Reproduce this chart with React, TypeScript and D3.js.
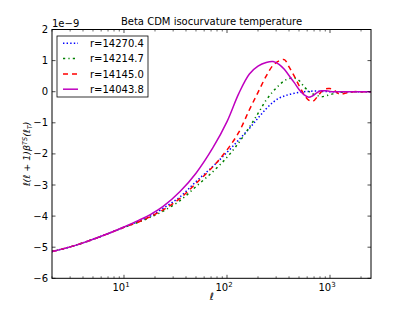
import React from "react";
import * as d3 from "d3";

const ell = [2, 3, 4, 6, 10, 14, 18, 24, 35, 50, 73, 100, 130, 165, 200, 240, 280, 320, 360, 400, 450, 500, 560, 620, 680, 750, 820, 900, 1000, 1100, 1250, 1400, 1700, 2000, 2500];

const blueVals = [-5.14, -4.99, -4.86, -4.65, -4.36, -4.16, -4.0, -3.75, -3.38, -2.89, -2.4, -1.95, -1.55, -1.18, -0.85, -0.55, -0.34, -0.21, -0.14, -0.09, -0.05, -0.02, 0.0, 0.01, 0.02, 0.02, 0.01, 0.01, 0, 0, 0, 0, 0, 0, 0];
const greenVals = [-5.14, -4.99, -4.86, -4.65, -4.36, -4.19, -4.04, -3.84, -3.5, -3.05, -2.57, -2.11, -1.64, -1.14, -0.7, -0.27, 0.01, 0.21, 0.35, 0.42, 0.44, 0.36, 0.16, 0.02, -0.07, -0.12, -0.16, -0.14, -0.09, -0.06, -0.02, 0, 0, 0, 0];
const redVals = [-5.14, -4.99, -4.86, -4.65, -4.36, -4.18, -4.02, -3.8, -3.43, -2.95, -2.41, -1.87, -1.31, -0.58, -0.02, 0.5, 0.85, 0.99, 1.03, 0.8, 0.5, 0.2, -0.09, -0.27, -0.31, -0.17, -0.01, 0.09, 0.1, 0.04, -0.08, -0.05, 0, 0, 0];
const magentaVals = [-5.14, -4.99, -4.86, -4.65, -4.35, -4.13, -3.95, -3.69, -3.21, -2.62, -1.8, -0.96, -0.06, 0.57, 0.82, 0.94, 0.97, 0.88, 0.72, 0.52, 0.29, 0.07, -0.1, -0.18, -0.13, -0.03, 0.03, 0.03, 0.01, 0, 0, 0, 0, 0, 0];

const seriesLabels = ["r=14270.4", "r=14214.7", "r=14145.0", "r=14043.8"];
const seriesValues = [blueVals, greenVals, redVals, magentaVals];
const seriesColors = ["#0000ff", "#008000", "#ff0000", "#bf00bf"];
const seriesDash = ["1.4,2.2", "2.2,3.2,1.2,3.2", "5,4", "none"];

const yTicks = [-6, -5, -4, -3, -2, -1, 0, 1, 2];
const xMajor = [10, 100, 1000];
const xExp = ["1", "2", "3"];

const W = 413, H = 310;
const L = 52, R = 371, T = 29.5, B = 278.3;
const FONT = "DejaVu Sans, sans-serif";

export default function App() {
  const x = d3.scaleLog().domain([2, 2500]).range([L, R]);
  const y = d3.scaleLinear().domain([-6, 2]).range([B, T]);
  const line = d3
    .line<[number, number]>()
    .x((d) => x(d[0]))
    .y((d) => y(d[1]))
    .curve(d3.curveCatmullRom.alpha(0.5));

  const minor: number[] = [];
  for (let dec = 1; dec <= 1000; dec *= 10) {
    for (let k = 2; k <= 9; k++) {
      const v = k * dec;
      if (v >= 2 && v <= 2500) minor.push(v);
    }
  }

  return (
    <svg width={W} height={H} style={{ position: "absolute", left: 0, top: 0, background: "#fff" }} fontFamily={FONT}>
      <defs>
        <clipPath id="plotclip">
          <rect x={L} y={T} width={R - L} height={B - T} />
        </clipPath>
      </defs>
      <rect x={0} y={0} width={W} height={H} fill="#fff" />
      <g clipPath="url(#plotclip)">
        {seriesValues.map((vals, i) => (
          <path
            key={i}
            d={line(ell.map((l, j) => [l, vals[j]] as [number, number])) || ""}
            fill="none"
            stroke={seriesColors[i]}
            strokeWidth={1.5}
            strokeDasharray={seriesDash[i]}
          />
        ))}
      </g>
      {minor.map((v) => (
        <g key={"m" + v}>
          <line x1={x(v)} x2={x(v)} y1={B} y2={B - 2} stroke="#000" strokeWidth={0.6} />
          <line x1={x(v)} x2={x(v)} y1={T} y2={T + 2} stroke="#000" strokeWidth={0.6} />
        </g>
      ))}
      {xMajor.map((v, i) => (
        <g key={"M" + v}>
          <line x1={x(v)} x2={x(v)} y1={B} y2={B - 3.5} stroke="#000" strokeWidth={0.7} />
          <line x1={x(v)} x2={x(v)} y1={T} y2={T + 3.5} stroke="#000" strokeWidth={0.7} />
          <text x={x(v) - 3} y={291} fontSize={10} textAnchor="middle">
            10
            <tspan dy={-4} fontSize={7}>{xExp[i]}</tspan>
          </text>
        </g>
      ))}
      {yTicks.map((v) => (
        <g key={"y" + v}>
          <line x1={L} x2={L + 3.5} y1={y(v)} y2={y(v)} stroke="#000" strokeWidth={0.7} />
          <line x1={R} x2={R - 3.5} y1={y(v)} y2={y(v)} stroke="#000" strokeWidth={0.7} />
          <text x={48} y={y(v) + 3.5} fontSize={10} textAnchor="end">
            {v < 0 ? "\u2212" + Math.abs(v) : String(v)}
          </text>
        </g>
      ))}
      <rect x={L} y={T} width={R - L} height={B - T} fill="none" stroke="#000" strokeWidth={1} />
      <text x={L} y={27} fontSize={10}>{"1e\u22129"}</text>
      <text x={(L + R) / 2} y={25} fontSize={10} textAnchor="middle">
        Beta CDM isocurvature temperature
      </text>
      <text x={(L + R) / 2} y={300} fontSize={10} textAnchor="middle" fontStyle="italic">
        ℓ
      </text>
      <text
        transform={`translate(30,${(T + B) / 2}) rotate(-90)`}
        fontSize={9.5}
        textAnchor="middle"
        fontStyle="italic"
      >
        ℓ(ℓ + 1)β
        <tspan dy={-3.5} fontSize={6.5}>TS</tspan>
        <tspan dy={3.5}>(ℓ</tspan>
        <tspan dy={2} fontSize={6.5}>T</tspan>
        <tspan dy={-2}>)</tspan>
      </text>
      <rect x={57} y={36} width={91} height={61} fill="#fff" stroke="#000" strokeWidth={0.8} />
      {seriesLabels.map((lab, i) => {
        const yy = 43.3 + i * 15.3;
        return (
          <g key={lab}>
            <line x1={63} x2={78} y1={yy} y2={yy} stroke={seriesColors[i]} strokeWidth={1.5} strokeDasharray={seriesDash[i]} />
            <text x={90} y={yy + 3.7} fontSize={10}>{lab}</text>
          </g>
        );
      })}
    </svg>
  );
}
